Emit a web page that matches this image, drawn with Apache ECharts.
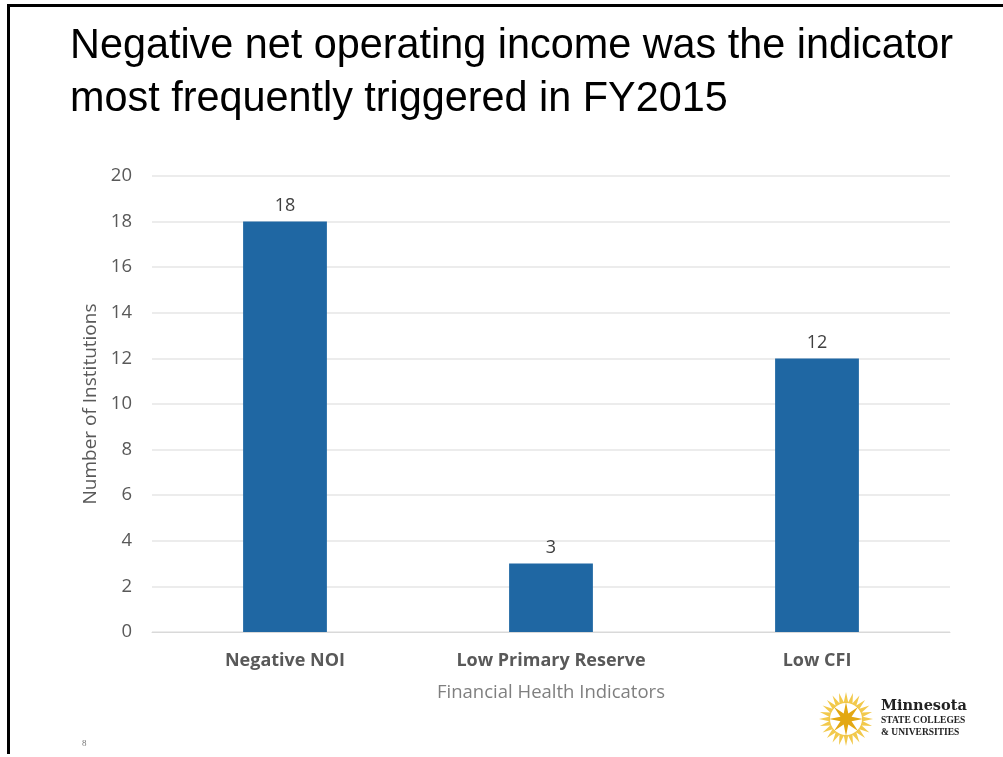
<!DOCTYPE html>
<html>
<head>
<meta charset="utf-8">
<script src="https://cdn.jsdelivr.net/npm/echarts@6/dist/echarts.min.js"></script>
<style>html,body{margin:0;padding:0;background:#fff;}#c{width:1003px;height:757px;}</style>
</head>
<body>
<div id="c"></div>
<script>
var categories = ['Negative NOI', 'Low Primary Reserve', 'Low CFI'];
var values = [18, 3, 12];
var yTicks = [0, 2, 4, 6, 8, 10, 12, 14, 16, 18, 20];

function starPoints(cx, cy, rOut, rIn, n, rot) {
  var pts = [];
  for (var i = 0; i < n * 2; i++) {
    var r = i % 2 === 0 ? rOut : rIn;
    var a = rot + Math.PI * i / n;
    pts.push([cx + r * Math.sin(a), cy - r * Math.cos(a)]);
  }
  return pts;
}

var chart = echarts.init(document.getElementById('c'));
chart.setOption({
  animation: false,
  backgroundColor: '#fff',
  grid: { left: 152, right: 53, top: 176, bottom: 125, containLabel: false },
  xAxis: {
    type: 'category',
    data: categories,
    name: 'Financial Health Indicators',
    nameLocation: 'middle',
    nameGap: 51,
    nameTextStyle: { fontFamily: 'Open Sans, sans-serif', fontSize: 18.5, color: '#7f7f7f' },
    axisLine: { lineStyle: { color: '#d9d9d9', width: 1 } },
    axisTick: { show: false },
    axisLabel: { fontFamily: 'Open Sans, sans-serif', fontSize: 18, fontWeight: 'bold', color: '#595959', margin: 20 }
  },
  yAxis: {
    type: 'value',
    min: 0, max: 20, interval: 2,
    name: 'Number of Institutions',
    nameLocation: 'middle',
    nameGap: 48,
    nameTextStyle: { fontFamily: 'Open Sans, sans-serif', fontSize: 19, color: '#595959' },
    axisLine: { show: false },
    axisTick: { show: false },
    axisLabel: { fontFamily: 'Open Sans, sans-serif', fontSize: 18.5, color: '#595959', margin: 20,
      formatter: function (v) { return yTicks.indexOf(v) >= 0 ? String(v) : ''; } },
    splitLine: { lineStyle: { color: '#e6e6e6', width: 1.5 } }
  },
  series: [{
    type: 'bar',
    data: values,
    barWidth: '31.5%',
    itemStyle: { color: '#1f67a3' },
    label: { show: true, position: 'top', distance: 7, fontFamily: 'Open Sans, sans-serif', fontSize: 18, color: '#404040' }
  }],
  graphic: [
    { type: 'rect', shape: { x: 7, y: 4, width: 996, height: 3 }, style: { fill: '#000' } },
    { type: 'rect', shape: { x: 7, y: 4, width: 3, height: 750 }, style: { fill: '#000' } },
    { type: 'text', x: 70, y: 25, scaleX: 0.985, style: { text: 'Negative net operating income was the indicator', font: '42px "Liberation Sans", Arial, sans-serif', fill: '#000' } },
    { type: 'text', x: 70, y: 78, scaleX: 0.985, style: { text: 'most frequently triggered in FY2015', font: '42px "Liberation Sans", Arial, sans-serif', fill: '#000' } },
    { type: 'text', left: 82, top: 739, style: { text: '8', font: '9px serif', fill: '#777' } },
    { type: 'polygon', shape: { points: starPoints(846, 719, 27, 17, 24, 0) }, style: { fill: '#f2c94c' } },
    { type: 'circle', shape: { cx: 846, cy: 719, r: 16 }, style: { fill: '#fff' } },
    { type: 'polygon', shape: { points: starPoints(846, 719, 17, 6, 8, 0) }, style: { fill: '#e3a812' } },
    { type: 'text', left: 881, top: 699, style: { text: 'Minnesota', font: 'bold 14.5px "DejaVu Serif", serif', fill: '#222' } },
    { type: 'text', left: 881, top: 716, style: { text: 'STATE COLLEGES', font: 'bold 9.5px "Liberation Serif", serif', fill: '#222' } },
    { type: 'text', left: 881, top: 728, style: { text: '& UNIVERSITIES', font: 'bold 9.5px "Liberation Serif", serif', fill: '#222' } }
  ]
});
</script>
</body>
</html>
